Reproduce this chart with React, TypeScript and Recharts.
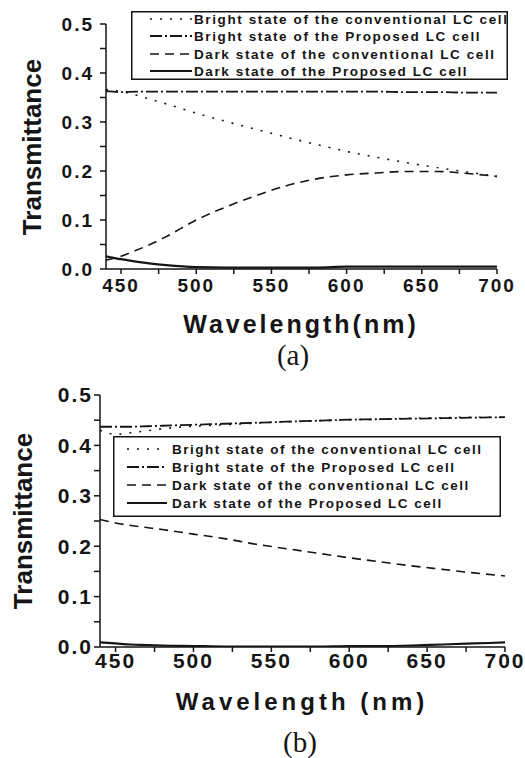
import React from "react";
import { LineChart, Line, XAxis, YAxis, Legend } from "recharts";

// wavelength samples (nm)
const wavelengths = [440, 450, 460, 470, 480, 500, 520, 540, 560, 580, 600, 620, 640, 660, 680, 700];

const seriesNames = [
  "Bright state of the conventional LC cell",
  "Bright state of the Proposed LC cell",
  "Dark state of the conventional LC cell",
  "Dark state of the Proposed LC cell",
];

// (a)
const brightConvA = [0.366, 0.362, 0.355, 0.346, 0.337, 0.318, 0.301, 0.285, 0.269, 0.254, 0.24, 0.228, 0.217, 0.207, 0.198, 0.189];
const brightPropA = [0.363, 0.361, 0.362, 0.362, 0.362, 0.362, 0.362, 0.362, 0.362, 0.362, 0.362, 0.362, 0.361, 0.361, 0.36, 0.36];
const darkConvA = [0.018, 0.026, 0.038, 0.051, 0.066, 0.1, 0.127, 0.15, 0.17, 0.184, 0.192, 0.196, 0.199, 0.199, 0.195, 0.189];
const darkPropA = [0.026, 0.02, 0.015, 0.011, 0.008, 0.004, 0.003, 0.003, 0.003, 0.003, 0.005, 0.005, 0.005, 0.005, 0.005, 0.005];

// (b)
const brightConvB = [0.43, 0.422, 0.425, 0.429, 0.433, 0.438, 0.441, 0.444, 0.447, 0.449, 0.451, 0.452, 0.454, 0.455, 0.456, 0.456];
const brightPropB = [0.437, 0.437, 0.437, 0.438, 0.439, 0.441, 0.443, 0.445, 0.447, 0.449, 0.451, 0.452, 0.453, 0.454, 0.455, 0.456];
const darkConvB = [0.253, 0.246, 0.241, 0.237, 0.233, 0.224, 0.215, 0.204, 0.195, 0.186, 0.177, 0.169, 0.161, 0.154, 0.147, 0.141];
const darkPropB = [0.009, 0.007, 0.005, 0.004, 0.003, 0.002, 0.001, 0.001, 0.001, 0.001, 0.002, 0.002, 0.003, 0.005, 0.007, 0.009];

const xTicks = [450, 475, 500, 525, 550, 575, 600, 625, 650, 675, 700];
const yTicks = [0, 0.05, 0.1, 0.15, 0.2, 0.25, 0.3, 0.35, 0.4, 0.45, 0.5];

const keys = ["brightConv", "brightProp", "darkConv", "darkProp"];
const dashes = ["2 8", "12 3 2 3", "9 6", undefined];
const widths = [1.6, 1.8, 1.6, 2.2];
const INK = "#151515";
const SANS = "'Liberation Sans', Arial, sans-serif";

const build = (cols: number[][]) =>
  wavelengths.map((w, i) => {
    const row: Record<string, number> = { w };
    keys.forEach((k, j) => (row[k] = cols[j][i]));
    return row;
  });

const dataA = build([brightConvA, brightPropA, darkConvA, darkPropA]);
const dataB = build([brightConvB, brightPropB, darkConvB, darkPropB]);

const fmtX = (v: number) => (v % 50 === 0 ? String(v) : "");
const fmtY = (v: number) => (Math.round(v * 100) % 10 === 0 ? v.toFixed(1) : "");

type BoxCfg = { w: number; h: number; x0: number; x1: number; tx: number; rows: number[]; fs: number; ls: number };

function LegendBox({ cfg }: { cfg: BoxCfg }) {
  return (
    <svg width={cfg.w} height={cfg.h} style={{ display: "block" }}>
      <rect x={0.75} y={0.75} width={cfg.w - 1.5} height={cfg.h - 1.5} fill="#fff" stroke={INK} strokeWidth={1.5} />
      {seriesNames.map((name, i) => (
        <g key={name}>
          <line
            x1={cfg.x0}
            x2={cfg.x1}
            y1={cfg.rows[i]}
            y2={cfg.rows[i]}
            stroke={INK}
            strokeWidth={widths[i]}
            strokeDasharray={dashes[i]}
          />
          <text
            x={cfg.tx}
            y={cfg.rows[i]}
            dominantBaseline="central"
            fontFamily={SANS}
            fontWeight="bold"
            fontSize={cfg.fs}
            letterSpacing={cfg.ls}
            fill={INK}
          >
            {name}
          </text>
        </g>
      ))}
    </svg>
  );
}

function Panel({
  data,
  width,
  height,
  margin,
  yWidth,
  tickFont,
  tickLs,
  xTickMargin,
  yTickMargin,
  legendPos,
  box,
}: {
  data: Record<string, number>[];
  width: number;
  height: number;
  margin: { top: number; right: number; bottom: number; left: number };
  yWidth: number;
  tickFont: number;
  tickLs: number;
  xTickMargin: number;
  yTickMargin: number;
  legendPos: { left: number; top: number };
  box: BoxCfg;
}) {
  const tick = { fontSize: tickFont, fontWeight: "bold", fill: INK, fontFamily: SANS, letterSpacing: tickLs };
  return (
    <LineChart width={width} height={height} data={data} margin={margin}>
      <XAxis
        type="number"
        dataKey="w"
        domain={[440, 700]}
        ticks={xTicks}
        interval={0}
        tickFormatter={fmtX}
        tick={tick}
        tickSize={5}
        tickMargin={xTickMargin}
        height={30}
        stroke={INK}
        strokeWidth={1.5}
        allowDataOverflow
      />
      <YAxis
        type="number"
        domain={[0, 0.5]}
        ticks={yTicks}
        interval={0}
        tickFormatter={fmtY}
        tick={tick}
        tickSize={6}
        tickMargin={yTickMargin}
        width={yWidth}
        stroke={INK}
        strokeWidth={1.5}
        allowDataOverflow
      />
      <Legend
        verticalAlign="middle"
        align="center"
        layout="horizontal"
        wrapperStyle={{ position: "absolute", left: legendPos.left, top: legendPos.top, width: box.w, height: box.h }}
        content={() => <LegendBox cfg={box} />}
      />
      {keys.map((k, i) => (
        <Line
          key={k}
          dataKey={k}
          name={seriesNames[i]}
          type="monotone"
          stroke={INK}
          strokeWidth={widths[i]}
          strokeDasharray={dashes[i]}
          dot={false}
          activeDot={false}
          isAnimationActive={false}
        />
      ))}
    </LineChart>
  );
}

const abs = (left: number, top: number, extra: React.CSSProperties = {}): React.CSSProperties => ({
  position: "absolute",
  left,
  top,
  whiteSpace: "nowrap",
  lineHeight: 1,
  color: INK,
  ...extra,
});

export default function App() {
  return (
    <div style={{ position: "absolute", left: 0, top: 0, width: 525, height: 758, background: "#fff" }}>
      <div style={abs(0, 0)}>
        <Panel
          data={dataA}
          width={525}
          height={310}
          margin={{ top: 24, right: 28, bottom: 11, left: 0 }}
          yWidth={106}
          tickFont={19}
          tickLs={2}
          xTickMargin={5}
          yTickMargin={6}
          legendPos={{ left: 131, top: 11 }}
          box={{ w: 377, h: 69, x0: 19, x1: 61, tx: 63, rows: [8, 25, 43, 60], fs: 13.5, ls: 1.6 }}
        />
      </div>
      <div style={abs(32, 147, { transform: "translate(-50%,-50%) rotate(-90deg)", fontFamily: SANS, fontWeight: "bold", fontSize: 26 })}>
        Transmittance
      </div>
      <div style={abs(301, 324, { transform: "translate(-50%,-50%)", fontFamily: SANS, fontWeight: "bold", fontSize: 25, letterSpacing: 3 })}>
        Wavelength(nm)
      </div>
      <div style={abs(293, 355, { transform: "translate(-50%,-50%)", fontFamily: "'Liberation Serif', 'Times New Roman', serif", fontSize: 29 })}>
        (a)
      </div>

      <div style={abs(0, 380)}>
        <Panel
          data={dataB}
          width={525}
          height={300}
          margin={{ top: 15, right: 20, bottom: 3, left: 0 }}
          yWidth={100}
          tickFont={21}
          tickLs={2}
          xTickMargin={1}
          yTickMargin={1}
          legendPos={{ left: 113, top: 56 }}
          box={{ w: 388, h: 81, x0: 14, x1: 54, tx: 59, rows: [13, 31, 49, 67], fs: 13.5, ls: 1.5 }}
        />
      </div>
      <div style={abs(23, 521, { transform: "translate(-50%,-50%) rotate(-90deg)", fontFamily: SANS, fontWeight: "bold", fontSize: 26 })}>
        Transmittance
      </div>
      <div style={abs(302, 702, { transform: "translate(-50%,-50%)", fontFamily: SANS, fontWeight: "bold", fontSize: 24, letterSpacing: 4 })}>
        Wavelength (nm)
      </div>
      <div style={abs(300, 742, { transform: "translate(-50%,-50%)", fontFamily: "'Liberation Serif', 'Times New Roman', serif", fontSize: 29 })}>
        (b)
      </div>
    </div>
  );
}
